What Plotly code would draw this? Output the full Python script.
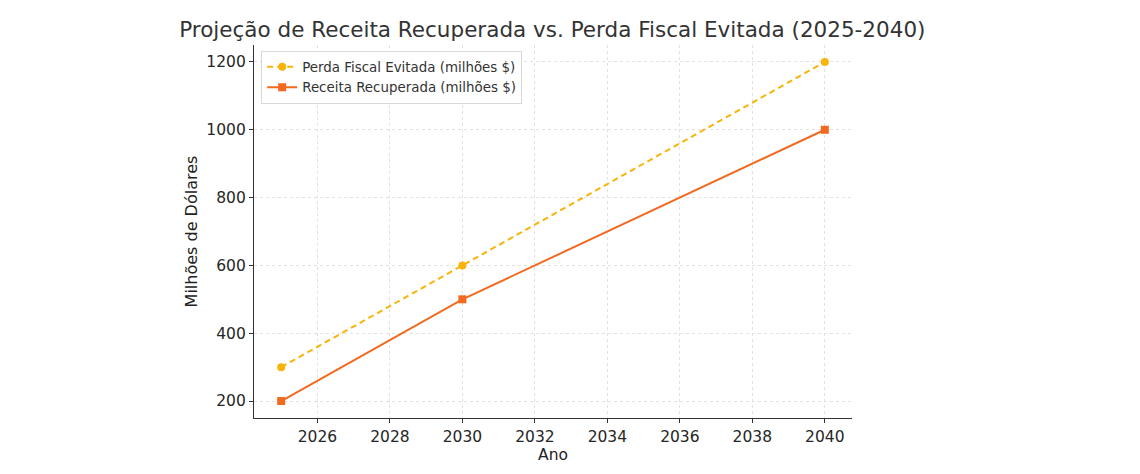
import plotly.graph_objects as go

anos = [2025, 2030, 2040]
perda_evitada = [300, 600, 1200]
receita_recuperada = [200, 500, 1000]

nome_perda = "Perda Fiscal Evitada (milhões $)"
nome_receita = "Receita Recuperada (milhões $)"
x_ticks = list(range(2026, 2041, 2))
y_ticks = [200, 400, 600, 800, 1000, 1200]

font_family = "DejaVu Sans"

fig = go.Figure()
fig.add_trace(go.Scatter(
    x=anos, y=perda_evitada, name=nome_perda, mode="lines+markers",
    line=dict(color="#F8B40A", width=2, dash="6px,4px"),
    marker=dict(symbol="circle", size=8, color="#F8B40A"),
))
fig.add_trace(go.Scatter(
    x=anos, y=receita_recuperada, name=nome_receita, mode="lines+markers",
    line=dict(color="#F26A1F", width=2),
    marker=dict(symbol="square", size=8, color="#F26A1F"),
))

fig.update_layout(
    width=1140, height=474,
    margin=dict(l=246, r=296, t=37, b=64),
    paper_bgcolor="white", plot_bgcolor="white",
    font=dict(family=font_family, size=15, color="#222222"),
    title=dict(text="Projeção de Receita Recuperada vs. Perda Fiscal Evitada (2025-2040)",
               x=0.4775, xanchor="center", y=0.955, yanchor="middle",
               font=dict(size=21.5, color="#333333")),
    showlegend=True,
    legend=dict(x=0.012, y=0.985, xanchor="left", yanchor="top",
                bgcolor="rgba(255,255,255,0.85)", bordercolor="#d8d8d8", borderwidth=1,
                font=dict(size=13.4, color="#333333"), tracegroupgap=0),
)
fig.update_xaxes(
    range=[2024.25, 2040.75], tickvals=x_ticks,
    title=dict(text="Ano", font=dict(size=15.5), standoff=1),
    showline=True, linecolor="#333333", linewidth=1.2,
    ticks="outside", ticklen=4, tickcolor="#333333",
    showgrid=True, gridcolor="#e2e2e2", griddash="3px,3px", gridwidth=1,
    zeroline=False, tickfont=dict(size=15.5, color="#262626"),
)
fig.update_yaxes(
    range=[150, 1250], tickvals=y_ticks,
    title=dict(text="Milhões de Dólares", font=dict(size=16), standoff=4),
    showline=True, linecolor="#333333", linewidth=1.2,
    ticks="outside", ticklen=4, tickcolor="#333333",
    showgrid=True, gridcolor="#e2e2e2", griddash="3px,3px", gridwidth=1,
    zeroline=False, tickfont=dict(size=15.5, color="#262626"),
)

fig.write_html("out.html")
